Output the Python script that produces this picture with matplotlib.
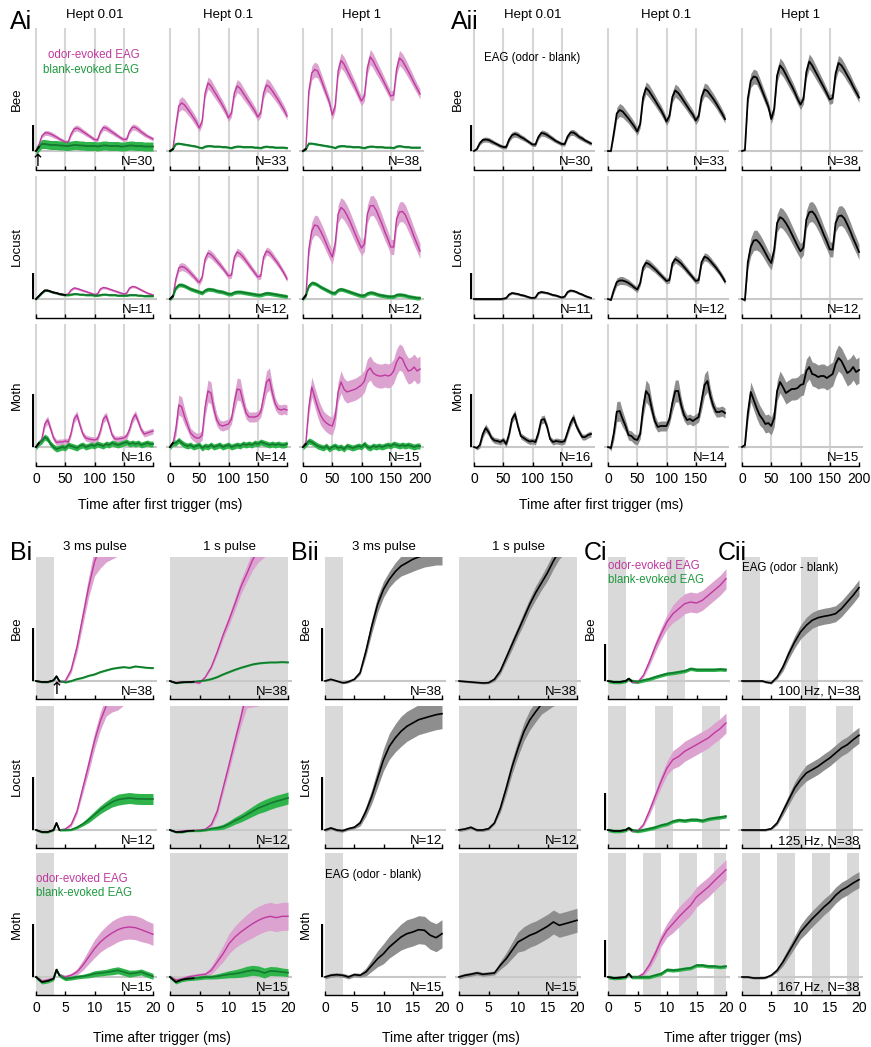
import matplotlib.pyplot as plt
import numpy as np

plt.rcParams['font.family'] = ['Liberation Sans', 'DejaVu Sans']

# amplitudes are in pixels of the figure's own vertical scale, 0 = pre-stimulus baseline

# ---------------- A: 4 pulses, 50 ms apart
t_a = np.arange(0, 201, 5)
hept = ['Hept 0.01', 'Hept 0.1', 'Hept 1']
animals = ['Bee', 'Locust', 'Moth']
n_a = [[30, 33, 38], [11, 12, 12], [16, 14, 15]]
# where odor and blank traces still overlap (drawn black)
overlap_a = [[5, 5, 5], [50, 5, 5], [5, 5, 5]]

bee_odor_001 = [0, 6, 15, 18, 18, 17, 15.5, 14, 12, 10.5,
                9, 9, 17, 22, 23, 21.5, 19.5, 17.5, 15.5, 13.5,
                11.5, 11, 19, 23.5, 23, 21, 19, 17, 15, 13,
                11.5, 12, 20, 24, 23.5, 21.5, 19, 17, 15, 13.5,
                12]
bee_blank_001 = [0, 4, 7, 7, 6.5, 6, 6, 6, 5.5, 5.5,
                 5, 5, 5.5, 6, 6, 5.5, 5.5, 5, 5, 5,
                 5, 4.5, 5, 5.5, 5.5, 5, 5, 5, 5, 4.5,
                 4.5, 5, 5.5, 5.5, 5, 5, 5, 4.5, 4.5, 4.5,
                 4.5]
bee_odor_01 = [0, 2, 25, 45, 48, 46, 42, 38, 33.5, 29,
               23, 30, 58, 68, 65, 60, 55.5, 50.5, 45.5, 40,
               33, 38, 58, 65, 62.5, 58, 53.5, 49, 44.5, 40,
               34, 38, 58, 66, 64, 60, 55.5, 51, 46, 41,
               35]
bee_blank_01 = [0, 2, 7, 7.5, 7, 6.5, 6, 5.5, 5, 4.5,
                3.5, 3, 4.5, 5, 5, 4.5, 4.5, 4.5, 4, 4,
                3.5, 3, 4, 4.5, 4.5, 4, 4, 4, 4, 3.5,
                3.5, 3, 4, 4.5, 4, 4, 3.5, 3.5, 3.5, 3.5,
                3]
bee_odor_1 = [0, 3, 60, 78, 81.5, 80, 73, 65, 57, 49,
              36, 45, 80, 90.5, 87, 81, 75, 69, 63, 56,
              50, 55, 83, 94, 90, 84, 78.5, 73, 67, 61,
              55, 56, 82, 93, 90, 85, 79.5, 74, 68, 62.5,
              57]
bee_blank_1 = [0, 2, 7.5, 7.5, 7, 6.5, 6, 5.5, 5, 4.5,
               4, 3, 4.5, 5, 5, 4.5, 4.5, 4, 4, 4,
               3.5, 3, 4, 4.5, 4.5, 4, 4, 4, 3.5, 3.5,
               3.5, 3, 4.5, 5, 4.5, 4, 4, 3.5, 3.5, 3.5,
               3.5]
loc_odor_001 = [0, 3, 6, 8.5, 8.5, 7.5, 6.5, 6, 5, 4.5,
                4.3, 5, 9, 11, 10.5, 9.5, 8.5, 7.5, 6.5, 5.5,
                4.5, 5, 10, 11.5, 11, 10, 9, 8, 7, 6,
                5, 6, 11, 12.5, 12, 10.5, 9, 7.5, 6, 5,
                4]
loc_blank_001 = [0, 3, 6, 8.5, 8.5, 7.5, 6.5, 6, 5, 4.5,
                 4, 4, 4.5, 5, 5, 4.5, 4.5, 4, 4, 4,
                 3.5, 3.5, 4, 4.5, 4.5, 4, 4, 4, 3.5, 3.5,
                 3.5, 3.5, 4, 4, 4, 3.5, 3.5, 3, 3, 3,
                 3]
loc_odor_01 = [0, 2, 20, 31, 32.5, 31.5, 29, 26, 23, 19.5,
               16.5, 22, 40, 46, 44.5, 41.5, 38, 34.5, 31, 27,
               23, 24, 42, 47, 45, 42, 38, 34, 30, 26,
               22, 23, 42, 48, 46.5, 43, 39, 35, 30.5, 25.5,
               20]
loc_blank_01 = [0, 3, 11, 14, 14, 13, 11.5, 10, 9, 8,
                7, 6, 8.5, 9.7, 9.5, 9, 8, 7.5, 7, 6,
                5, 5, 6.5, 7, 7, 6.5, 6, 5.5, 5, 4.5,
                4, 4, 5, 5.7, 5.5, 5, 4.5, 4, 3.5, 3,
                2.5]
loc_odor_1 = [0, 3, 50, 68, 74, 73, 68, 62, 55, 48,
              42, 55, 85, 91.5, 89, 84, 78, 71, 64, 57,
              51, 55, 85, 93, 93.5, 89, 82, 75, 67, 60,
              52, 52, 80, 87, 87.5, 84, 77, 70, 62, 55,
              48]
loc_blank_1 = [0, 4, 13, 16, 15.5, 14, 12, 10.5, 9, 7.5,
               6, 6, 9, 9.7, 9, 8, 7, 6, 5, 4,
               3.3, 3.5, 5.5, 6.3, 6, 5, 4, 3.5, 3, 2.5,
               2.3, 2.5, 4, 4.3, 4, 3.5, 2.5, 2, 1.5, 1,
               1]
moth_odor_001 = [0, 3, 8, 23, 27, 18, 9, 4.5, 5, 5,
                 6, 5, 14, 28, 32, 22, 13, 9, 8, 7.5,
                 7, 8, 16, 28, 31, 22, 12, 8, 8, 8.5,
                 9, 11, 18, 28, 32.5, 25, 17, 13, 14, 15,
                 16]
moth_blank_001 = [0, 4, 6, 10, 8, 3, 0, -2, -1, 0,
                  -1, 2, 1, 0, -1, 1, 2, 0, 1, 2,
                  1, 3, 2, 1, 3, 2, 4, 3, 2, 3,
                  4, 5, 3, 4, 3, 4, 2, 3, 4, 3,
                  3]
moth_odor_01 = [0, 3, 18, 42, 40, 30, 22, 14, 11, 9,
                9, 12, 40, 56, 54, 38, 27, 22, 21, 22,
                23, 28, 45, 58, 57, 45, 34, 30, 30, 30,
                31, 35, 50, 65, 68, 54, 43, 38, 37, 38,
                37]
moth_blank_01 = [0, 4, 4, 6.7, 4, 2, 1, 2, 0, 1,
                 2, -1, 1, 0, 2, 0, 1, 2, 0, 1,
                 2, 0, 1, 2, 1, 3, 2, 3, 2, 4,
                 3, 5, 4, 3, 2, 3, 2, 3, 2, 2,
                 3]
moth_odor_1 = [0, 5, 40, 60, 50, 40, 32, 27, 24, 22,
               21, 30, 55, 65, 58, 55, 56, 57, 58, 60,
               62, 66, 76, 79, 74, 72, 71, 71, 72, 71,
               72, 76, 85, 90, 88, 81, 76, 77, 80, 76,
               78]
moth_blank_1 = [0, 3, 6, 5, 3, 1, 0, -1, 1, -2,
                0, 1, -1, 0, -2, 1, 0, -1, 0, 1,
                0, 3, 0, -1, 1, 0, 1, 0, 1, 2,
                1, 3, 2, 1, 2, 1, 2, 1, 0, 1,
                1]

# s.e.m. half widths of the odor bands
bee_sem_001 = [0, 1, 2, 2.5, 2.5, 2.5, 2.5, 2, 2, 2,
               2, 2, 2.5, 3, 3, 3, 2.5, 2.5, 2, 2,
               2, 2, 2.5, 3, 3, 3, 2.5, 2.5, 2, 2,
               2, 2, 2.5, 3, 3, 3, 2.5, 2.5, 2, 2,
               2]
bee_sem_01 = [0, 1, 4, 6, 6.5, 6, 5.5, 5, 5, 4.5,
              4, 4, 5, 6, 6.5, 6, 5.5, 5, 5, 4.5,
              4, 4, 5.5, 6.5, 6.5, 6, 5.5, 5, 5, 4.5,
              4, 4, 5.5, 6.5, 6.5, 6, 5.5, 5, 5, 4.5,
              4]
bee_sem_1 = [0, 1, 5, 7, 7.5, 7, 6.5, 6, 5.5, 5,
             5, 5, 6.5, 7.5, 7.5, 7, 6.5, 6, 5.5, 5,
             5, 5, 6.5, 7.5, 7.5, 7, 6.5, 6, 5.5, 5,
             5, 5, 6.5, 7.5, 7.5, 7, 6.5, 6, 5.5, 5,
             5]
loc_sem_001 = 1.2
loc_sem_01 = [0, 1, 3, 4, 4, 4, 3.5, 3.5, 3, 3,
              3, 3, 3.5, 4, 4, 4, 3.5, 3.5, 3, 3,
              3, 3, 3.5, 4, 4, 4, 3.5, 3.5, 3, 3,
              3, 3, 3.5, 4, 4, 4, 3.5, 3.5, 3, 3,
              3]
loc_sem_1 = [0, 2, 7, 9, 10, 10, 9, 8.5, 8, 7.5,
             7, 7, 9, 10, 10, 10, 9.5, 9, 8.5, 8,
             7.5, 7.5, 9, 10, 10, 10, 9.5, 9, 8.5, 8,
             7.5, 7.5, 9, 10, 10, 10, 9.5, 9, 8.5, 8,
             7.5]
moth_sem_001 = [0, 2, 3, 4, 4, 3.5, 3, 3, 3, 3,
                3, 3, 3.5, 4, 4, 3.5, 3, 3, 3, 3,
                3, 3, 3.5, 4, 4, 3.5, 3, 3, 3, 3,
                3, 3, 3.5, 4, 4, 3.5, 3, 3, 3, 3,
                3]
moth_sem_01 = [0, 3, 7, 10, 10, 8, 6, 5, 5, 5,
               5, 5, 9, 11, 11, 8, 6, 5, 5, 5,
               5, 5, 9, 11, 11, 8, 6, 5, 5, 5,
               5, 5, 9, 11, 11, 8, 6, 5, 5, 5,
               5]
moth_sem_1 = [0, 3, 8, 10, 10, 10, 10, 9, 9, 9,
              9, 9, 10, 11, 11, 11, 11, 11, 11, 11,
              11, 11, 12, 12, 12, 12, 12, 12, 12, 12,
              12, 12, 13, 13, 13, 13, 13, 13, 13, 13,
              13]
blank_sem_a = [[4.5, 1, 1], [1, 2, 2], [3, 3, 3]]
scale_a = [26, 26, 53]

# ---------------- B / C: single trigger, 0-20 ms
t_b = [0, 1, 2, 3, 3.5, 4, 5, 6, 7, 8, 9, 10, 11, 12, 13, 14, 15, 16, 17, 18, 19, 20]
n_b = [38, 12, 15]

bee_3ms_odor = [0, -1, -1, 0.7, 4.7, -1, 0, 11, 34, 64, 94, 119, 135, 145, 150, 156, 160, 165, 168, 170, 172, 174]
bee_3ms_odor_sem = [1, 1, 1, 1, 1, 1, 1, 3, 6, 8, 10, 14, 22, 26, 28, 31, 33, 33, 33, 33, 33, 33]
bee_3ms_blank = [0, -1, -1, 0.7, 4.7, 0, -1.3, 0, 2, 3.3, 5.3, 6.7, 9, 10.7, 12.3, 13.3, 14, 13.3, 14.7, 14, 13.3, 13]
bee_3ms_blank_sem = 0.8
bee_3ms_diff = [0, 1.7, 0, -1.7, -1.5, -0.7, 1.7, 8.3, 30, 55, 76.7, 91.7, 101.7, 109.3, 115, 118.3, 121.7, 124, 126, 127, 128, 128]
bee_3ms_diff_sem = [1, 1, 1, 1, 1, 1, 1, 2, 5, 7, 8, 8, 8, 9, 10, 11, 12, 12, 12, 12, 12, 12]

bee_1s_odor = [0, -1.5, -1, -1, -1, -1, -2, 4, 14, 29, 46, 61, 77, 94, 107, 121, 132, 142, 150, 156, 160, 165]
bee_1s_odor_sem = [1, 1, 1, 1, 1, 1, 1, 1, 2, 3, 4, 5, 6, 7, 8, 10, 13, 18, 20, 20, 20, 20]
bee_1s_blank = [0, -2, -1.3, -1, -1, -0.7, 0, 0.7, 2, 4, 6.7, 9, 11.3, 13.3, 15, 16.7, 17.7, 18.3, 18.7, 18.7, 19, 18.7]
bee_1s_blank_sem = 0.8
bee_1s_diff = [0, -0.5, -1, -1.5, -1.7, -2, -1.7, 1.7, 10, 23.3, 36.7, 50, 63.3, 76.7, 88.3, 98.3, 108.3, 120, 130, 138, 145, 150]
bee_1s_diff_sem = [1, 1, 1, 1, 1, 1, 1, 2, 3, 4, 5, 5, 6, 6, 7, 7, 8, 8, 8, 10, 10, 10]

loc_3ms_odor = [0, -2, -2, 0, 7, 0, 1, 5.3, 18.7, 42, 65, 89, 109, 124, 138, 148, 155, 160, 165, 165, 165, 165]
loc_3ms_odor_sem = [1, 1, 1, 1, 1, 1, 1, 2, 3, 5, 7, 8, 9, 10, 20, 28, 30, 33, 35, 35, 35, 35]
loc_3ms_blank = [0, -2, -2, 0, 7, 0, 0, 0.3, 2.7, 6, 10.3, 15.3, 20.3, 24.3, 28, 30.3, 31.3, 32, 31.3, 31, 31, 31]
loc_3ms_blank_sem = [1, 1, 1, 1, 1, 1, 1, 1, 1.5, 2, 3, 3.5, 4, 4.5, 5, 5.5, 5.5, 5.5, 5.5, 5.5, 5.5, 5.5]
loc_3ms_diff = [0, 2, 0, -0.7, 0.3, 1.3, 2.7, 7, 18.7, 33.7, 52, 70.3, 83.7, 92, 98.7, 103.7, 107, 110.3, 112, 113.7, 115.3, 116.3]
loc_3ms_diff_sem = [1.5, 1.5, 1.5, 1.5, 1.5, 1.5, 1.5, 3, 5, 7, 9, 11, 13, 14, 15, 15, 15, 15, 15, 15, 15, 15]

loc_1s_odor = [0, -2, -1, -0.5, -0.5, -0.5, 0, 0.7, 5.3, 18.7, 42, 65, 89, 112, 138, 148, 155, 160, 160, 160, 160, 160]
loc_1s_odor_sem = [1, 1, 1, 1, 1, 1, 1, 1.5, 2.5, 4, 5, 6, 7, 8, 16, 25, 31, 33, 33, 33, 33, 33]
loc_1s_blank = [0, -2, -2, -1, -0.8, -0.7, -0.7, 0, 1.3, 2, 3.3, 6, 9.3, 12, 15.3, 18.7, 22, 24.3, 26.7, 28.7, 30.3, 32]
loc_1s_blank_sem = [1, 1, 1, 1, 1, 1, 1, 1, 1.5, 2, 2.5, 3, 3.5, 4, 4.5, 5, 5.5, 6, 6, 6, 6, 6]
loc_1s_diff = [0, 1, 2.7, 0, 0, 0, 1.3, 7, 21.7, 41.7, 63.3, 81.7, 98.3, 110, 118.3, 126, 132, 137, 140, 145, 145, 145]
loc_1s_diff_sem = [1.5, 1.5, 1.5, 1.5, 1.5, 1.5, 1.5, 1.5, 4, 6, 7, 8, 9, 10, 10, 10, 12, 13, 14, 15, 15, 15]

moth_3ms_odor = [0, -4, -3, -1.5, 7.3, 1.7, 0, 1.7, 5, 11.7, 20, 28.3, 35, 40, 44, 47.3, 49.3, 50, 49.3, 47.3, 45, 42.7]
moth_3ms_odor_sem = [2, 2, 2, 2, 2, 2, 2, 2, 3, 5, 7, 9, 10, 11, 12, 12, 12, 12, 12, 12, 11, 11]
moth_3ms_blank = [0, -5, -4, -1.7, 7.3, 1.7, -1.7, -1, 0, 0.7, 1.7, 3.3, 4, 4.7, 5.7, 6.7, 5, 3.3, 4, 5, 2.7, 0.7]
moth_3ms_blank_sem = [2, 2, 2, 2, 2, 2, 2, 2, 2, 2, 2.5, 3, 3, 3, 3.5, 3.5, 3.5, 3.5, 3, 3, 3, 3]
moth_3ms_diff = [0, 1.7, 2.3, 1.7, 1, 0, 2.3, 1.7, 5, 11.7, 18.3, 23.3, 30, 35, 40, 43.3, 45, 47.3, 46.7, 41.7, 39.3, 43.3]
moth_3ms_diff_sem = [2, 2, 2, 2, 2, 2, 2, 2, 4, 6, 8, 10, 11, 12, 13, 14, 14, 14, 14, 14, 14, 14]

moth_1s_odor = [0, -3, -2, 0, 0.5, 1, 2, 2.7, 6.7, 15, 23.3, 33.3, 40, 45, 49.3, 53.3, 56.7, 59.3, 60.7, 59.3, 60.7, 60.7]
moth_1s_odor_sem = [2, 2, 2, 2, 2, 2, 2, 2, 4, 6, 8, 10, 11, 12, 13, 14, 14, 14, 14, 14, 14, 14]
moth_1s_blank = [0, -5, -2.7, -1.7, -1.5, -1.3, -0.7, 0, 0, 0.7, 1.7, 2.7, 3.3, 4.3, 5.7, 6.7, 6, 4, 6, 5.7, 5, 4.3]
moth_1s_blank_sem = [2, 2, 2, 2, 2, 2, 2, 2, 2, 2.5, 3, 3.5, 4, 4.5, 5, 5, 5, 5, 4.5, 4.5, 4, 4]
moth_1s_diff = [0, 1.7, 2.7, 4, 3.5, 2.7, 3.3, 4, 11.7, 18.3, 26.7, 35, 38.3, 41.7, 44, 47.3, 50.7, 55, 51.7, 53.3, 55, 56.7]
moth_1s_diff_sem = [2, 2, 2, 2, 2, 2, 2, 2, 4, 6, 8, 10, 12, 12, 12, 12, 12, 12, 12, 12, 12, 12]

# C: pulse trains (3 ms pulses)
freqs = ['100 Hz', '125 Hz', '167 Hz']
pulse_onsets = [[0, 10], [0, 8, 16], [0, 6, 12, 18]]
c_bee_odor = [0, -1, -1, 0, 2.3, -1, -1.5, 5.7, 19, 34, 47.3, 59, 67.3, 72.3, 77.3, 79, 78, 80.7, 85.7, 90.7, 95.7, 102.3]
c_bee_blank = [0, -1, -1, 0, 2.3, 0, -0.7, 0.7, 2, 4, 5.7, 7.3, 8, 9, 10, 12.3, 11.3, 11.3, 11.3, 11.3, 11.7, 11.3]
c_bee_diff = [0, 0, 0, 0, 0, -1, -2, 4, 14, 27.3, 39, 49, 55.7, 60.7, 63.3, 64.7, 65.7, 67.3, 72.3, 79, 85.7, 93.3]
c_loc_odor = [0, -1, -1, 0, 2, -1, -1, 5.3, 18.7, 33.7, 48.7, 62, 70.3, 73.7, 78.7, 82, 85.3, 88.7, 92, 97, 101.3, 107]
c_loc_blank = [0, -1, -1, 0, 2, 0, -1, 0, 1.3, 2.7, 4.7, 6, 8.7, 10, 9.3, 10.3, 10.3, 9.3, 11, 12, 12.7, 13.7]
c_loc_diff = [0, 0, 0, 0, 0, 0, 1.3, 7, 18.7, 30.3, 42, 50.3, 57, 60.3, 63.7, 68, 72, 77, 82, 85.3, 90.3, 94.7]
c_moth_odor = [0, -1, 0, 0, 3.3, 0, 0, 3.3, 11.7, 23.3, 36.7, 46.7, 53.3, 60, 66, 71.7, 80, 85, 90, 96, 101.7, 107.3]
c_moth_blank = [0, -1, -0.7, 0, 3.3, 0, 0, 0, 0, 1.7, 3.3, 7.3, 6.7, 7.3, 8.3, 9, 11.7, 11.7, 10.7, 10.7, 10, 10.7]
c_moth_diff = [0, 0, -1, -1, -1, -0.7, 1.7, 6.7, 15, 25, 35, 45, 51.7, 58.3, 64, 70, 75, 81.7, 86.7, 90, 94, 97.3]
c_odor_sem = [1, 1, 1, 1, 1, 1, 1, 2, 4, 5, 6, 7, 9, 10, 10, 10, 10, 10, 10, 10, 10, 10]
c_blank_sem = 1.8
c_diff_sem = [1, 1, 1, 1, 1, 1, 1, 2, 4, 5, 6, 7, 8, 8, 8, 8, 8, 8, 8, 8, 8, 8]

PINK, PINK_BAND = '#c0399e', '#dca2d0'
GREEN, GREEN_BAND = '#127a2e', '#2fb44b'
GREEN_TXT = '#1e9a3e'
GRAY_BAND = '#8e8e8e'
STIM = '#d9d9d9'
VLINE = '#d6d6d6'

W, H = 871, 1047
fig = plt.figure(figsize=(W / 100, H / 100), dpi=100)


def ftext(x, y, s, **kw):
    fig.text(x / W, 1 - y / H, s, **kw)


def panel(p0, p1, top, t_end, pad, ylim, ticks, labels):
    # one unit on the y axis is one pixel
    s = (p1 - p0) / t_end
    lo, hi = ylim
    h = hi - lo
    ax = fig.add_axes([(p0 - pad * s) / W, 1 - (top + h) / H,
                       (p1 - p0 + 2 * pad * s) / W, h / H])
    ax.set_xlim(-pad, t_end + pad)
    ax.set_ylim(lo, hi)
    ax.patch.set_alpha(0)
    for side in ['top', 'right', 'left']:
        ax.spines[side].set_visible(False)
    ax.spines['bottom'].set_bounds(0, t_end)
    ax.spines['bottom'].set_linewidth(1)
    ax.set_yticks([])
    ax.set_xticks(ticks)
    if labels is None:
        ax.tick_params(axis='x', direction='in', length=3, width=1, labelbottom=False)
    else:
        ax.set_xticklabels(labels)
        ax.tick_params(axis='x', direction='in', length=3, width=1, labelsize=10, pad=4)
    ax.axhline(0, color='#c8c8c8', lw=1.5, zorder=0.8)
    return ax


def band_line(ax, t, v, s, line, band, lw, z):
    v = np.asarray(v, float)
    s = np.asarray(s, float)
    ax.fill_between(t, v - s, v + s, color=band, lw=0, zorder=z)
    ax.plot(t, v, color=line, lw=lw, zorder=z + 2)


# ---------------- A
a_odor = [[bee_odor_001, bee_odor_01, bee_odor_1],
          [loc_odor_001, loc_odor_01, loc_odor_1],
          [moth_odor_001, moth_odor_01, moth_odor_1]]
a_blank = [[bee_blank_001, bee_blank_01, bee_blank_1],
           [loc_blank_001, loc_blank_01, loc_blank_1],
           [moth_blank_001, moth_blank_01, moth_blank_1]]
a_sem = [[bee_sem_001, bee_sem_01, bee_sem_1],
         [loc_sem_001, loc_sem_01, loc_sem_1],
         [moth_sem_001, moth_sem_01, moth_sem_1]]

ai_cols = [(36, 153), (170, 287), (303, 420)]
aii_cols = [(474, 591), (608, 725), (742, 859)]
a_tops = [28, 176, 324]
a_ticks = [0, 50, 100, 150, 200]

for r in range(3):
    for c in range(3):
        if r == 2:
            lab = ['0', '50', '100', '150', '200' if c == 2 else '']
        else:
            lab = None
        odor = np.array(a_odor[r][c], float)
        blank = np.array(a_blank[r][c], float)
        for part, cols in (('i', ai_cols), ('ii', aii_cols)):
            ax = panel(cols[c][0], cols[c][1], a_tops[r], 200, 6, (-19, 123), a_ticks, lab)
            for x in [0, 50, 100, 150]:
                ax.axvline(x, color=VLINE, lw=1.5, zorder=0)
            if part == 'i':
                band_line(ax, t_a, odor, a_sem[r][c], PINK, PINK_BAND, 1.0, 1)
                band_line(ax, t_a, blank, blank_sem_a[r][c], GREEN, GREEN_BAND, 1.3, 2)
                k = t_a <= overlap_a[r][c]
                ax.plot(t_a[k], blank[k], color='k', lw=1.3, zorder=6)
            else:
                band_line(ax, t_a, odor - blank, a_sem[r][c], 'k', GRAY_BAND, 1.3, 1)
            ax.text(200, -11, f'N={n_a[r][c]}', ha='right', va='center', fontsize=9.5)
            if c == 0:
                ax.plot([-5, -5], [0, scale_a[r]], color='k', lw=1.6, solid_capstyle='butt')
            if r == 0 and c == 0 and part == 'i':
                ax.text(20.5, 96, 'odor-evoked EAG', color=PINK, fontsize=8.3, va='center')
                ax.text(12.5, 81, 'blank-evoked EAG', color=GREEN_TXT, fontsize=8.3, va='center')
                ax.text(2, -10, '\u2191', ha='center', va='center', fontsize=12,
                        family='DejaVu Sans')
            if r == 0 and c == 0 and part == 'ii':
                ax.text(17, 93, 'EAG (odor - blank)', fontsize=8.3, va='center')

for c in range(3):
    ftext(sum(ai_cols[c]) / 2, 15, hept[c], ha='center', va='center', fontsize=9.5)
    ftext(sum(aii_cols[c]) / 2, 15, hept[c], ha='center', va='center', fontsize=9.5)
for r in range(3):
    ftext(17, a_tops[r] + 71, animals[r], rotation=90, ha='center', va='center', fontsize=9.5)
    ftext(458, a_tops[r] + 71, animals[r], rotation=90, ha='center', va='center', fontsize=9.5)
ftext(10, 22, 'Ai', fontsize=18, va='center')
ftext(451, 22, 'Aii', fontsize=18, va='center')
ftext(160, 505, 'Time after first trigger (ms)', ha='center', va='center', fontsize=10)
ftext(601, 505, 'Time after first trigger (ms)', ha='center', va='center', fontsize=10)

# ---------------- B and C
b_odor = [[bee_3ms_odor, bee_1s_odor], [loc_3ms_odor, loc_1s_odor], [moth_3ms_odor, moth_1s_odor]]
b_odor_sem = [[bee_3ms_odor_sem, bee_1s_odor_sem], [loc_3ms_odor_sem, loc_1s_odor_sem],
              [moth_3ms_odor_sem, moth_1s_odor_sem]]
b_blank = [[bee_3ms_blank, bee_1s_blank], [loc_3ms_blank, loc_1s_blank], [moth_3ms_blank, moth_1s_blank]]
b_blank_sem = [[bee_3ms_blank_sem, bee_1s_blank_sem], [loc_3ms_blank_sem, loc_1s_blank_sem],
               [moth_3ms_blank_sem, moth_1s_blank_sem]]
b_diff = [[bee_3ms_diff, bee_1s_diff], [loc_3ms_diff, loc_1s_diff], [moth_3ms_diff, moth_1s_diff]]
b_diff_sem = [[bee_3ms_diff_sem, bee_1s_diff_sem], [loc_3ms_diff_sem, loc_1s_diff_sem],
              [moth_3ms_diff_sem, moth_1s_diff_sem]]
c_odor = [c_bee_odor, c_loc_odor, c_moth_odor]
c_blank = [c_bee_blank, c_loc_blank, c_moth_blank]
c_diff = [c_bee_diff, c_loc_diff, c_moth_diff]

bi_cols = [(36, 153), (170, 288)]
bii_cols = [(325, 442), (459, 577)]
ci_col = (608, 726)
cii_col = (742, 859)
b_tops = [557, 706, 853]
b_ticks = [0, 5, 10, 15, 20]
b_labels = ['0', '5', '10', '15', '20']
pulse_len = [3, 20]
t_b = np.array(t_b)

for r in range(3):
    lab = b_labels if r == 2 else None
    for c in range(2):
        for part, cols in (('i', bi_cols), ('ii', bii_cols)):
            ax = panel(cols[c][0], cols[c][1], b_tops[r], 20, 0.6, (-18, 124), b_ticks, lab)
            ax.axvspan(0, pulse_len[c], color=STIM, lw=0, zorder=0)
            if part == 'i':
                blank = np.array(b_blank[r][c], float)
                band_line(ax, t_b, b_odor[r][c], b_odor_sem[r][c], PINK, PINK_BAND, 1.0, 1)
                band_line(ax, t_b, blank, b_blank_sem[r][c], GREEN, GREEN_BAND, 1.2, 2)
                ax.plot(t_b[:6], blank[:6], color='k', lw=1.2, zorder=6)
            else:
                band_line(ax, t_b, b_diff[r][c], b_diff_sem[r][c], 'k', GRAY_BAND, 1.2, 1)
            ax.text(20, -11, f'N={n_b[r]}', ha='right', va='center', fontsize=9.5)
            if c == 0:
                ax.plot([-0.5, -0.5], [0, 53], color='k', lw=1.6, solid_capstyle='butt')
            if r == 2 and c == 0 and part == 'i':
                ax.text(0, 98, 'odor-evoked EAG', color=PINK, fontsize=8.3, va='center')
                ax.text(0, 84, 'blank-evoked EAG', color=GREEN_TXT, fontsize=8.3, va='center')
            if r == 2 and c == 0 and part == 'ii':
                ax.text(0, 102, 'EAG (odor - blank)', fontsize=8.3, va='center')
            if r == 0 and c == 0 and part == 'i':
                ax.text(3.6, -8, '\u2191', ha='center', va='center', fontsize=12,
                        family='DejaVu Sans')

    for part, col in (('i', ci_col), ('ii', cii_col)):
        ax = panel(col[0], col[1], b_tops[r], 20, 0.6, (-18, 124), b_ticks, lab)
        for on in pulse_onsets[r]:
            ax.axvspan(on, min(on + 3, 20), color=STIM, lw=0, zorder=0)
        if part == 'i':
            blank = np.array(c_blank[r], float)
            band_line(ax, t_b, c_odor[r], c_odor_sem, PINK, PINK_BAND, 1.0, 1)
            band_line(ax, t_b, blank, c_blank_sem, GREEN, GREEN_BAND, 1.2, 2)
            ax.plot(t_b[:6], blank[:6], color='k', lw=1.2, zorder=6)
            ax.plot([-0.5, -0.5], [0, 37], color='k', lw=1.6, solid_capstyle='butt')
            if r == 0:
                ax.text(0, 115, 'odor-evoked EAG', color=PINK, fontsize=8.3, va='center')
                ax.text(0, 101, 'blank-evoked EAG', color=GREEN_TXT, fontsize=8.3, va='center')
        else:
            band_line(ax, t_b, c_diff[r], c_diff_sem, 'k', GRAY_BAND, 1.2, 1)
            ax.text(20, -11, f'{freqs[r]}, N=38', ha='right', va='center', fontsize=9.5)
            if r == 0:
                ax.text(0, 113, 'EAG (odor - blank)', fontsize=8.3, va='center')

titles_b = ['3 ms pulse', '1 s pulse']
for c in range(2):
    ftext(sum(bi_cols[c]) / 2, 547, titles_b[c], ha='center', va='center', fontsize=9.5)
    ftext(sum(bii_cols[c]) / 2, 547, titles_b[c], ha='center', va='center', fontsize=9.5)
for r in range(3):
    y = b_tops[r] + 71
    ftext(17, y, animals[r], rotation=90, ha='center', va='center', fontsize=9.5)
    ftext(306, y, animals[r], rotation=90, ha='center', va='center', fontsize=9.5)
ftext(591, b_tops[0] + 71, animals[0], rotation=90, ha='center', va='center', fontsize=9.5)
ftext(10, 553, 'Bi', fontsize=18, va='center')
ftext(291, 553, 'Bii', fontsize=18, va='center')
ftext(584, 553, 'Ci', fontsize=18, va='center')
ftext(718, 553, 'Cii', fontsize=18, va='center')
ftext(162, 1038, 'Time after trigger (ms)', ha='center', va='center', fontsize=10)
ftext(451, 1038, 'Time after trigger (ms)', ha='center', va='center', fontsize=10)
ftext(733, 1038, 'Time after trigger (ms)', ha='center', va='center', fontsize=10)

fig.savefig('out.png', dpi=100)
